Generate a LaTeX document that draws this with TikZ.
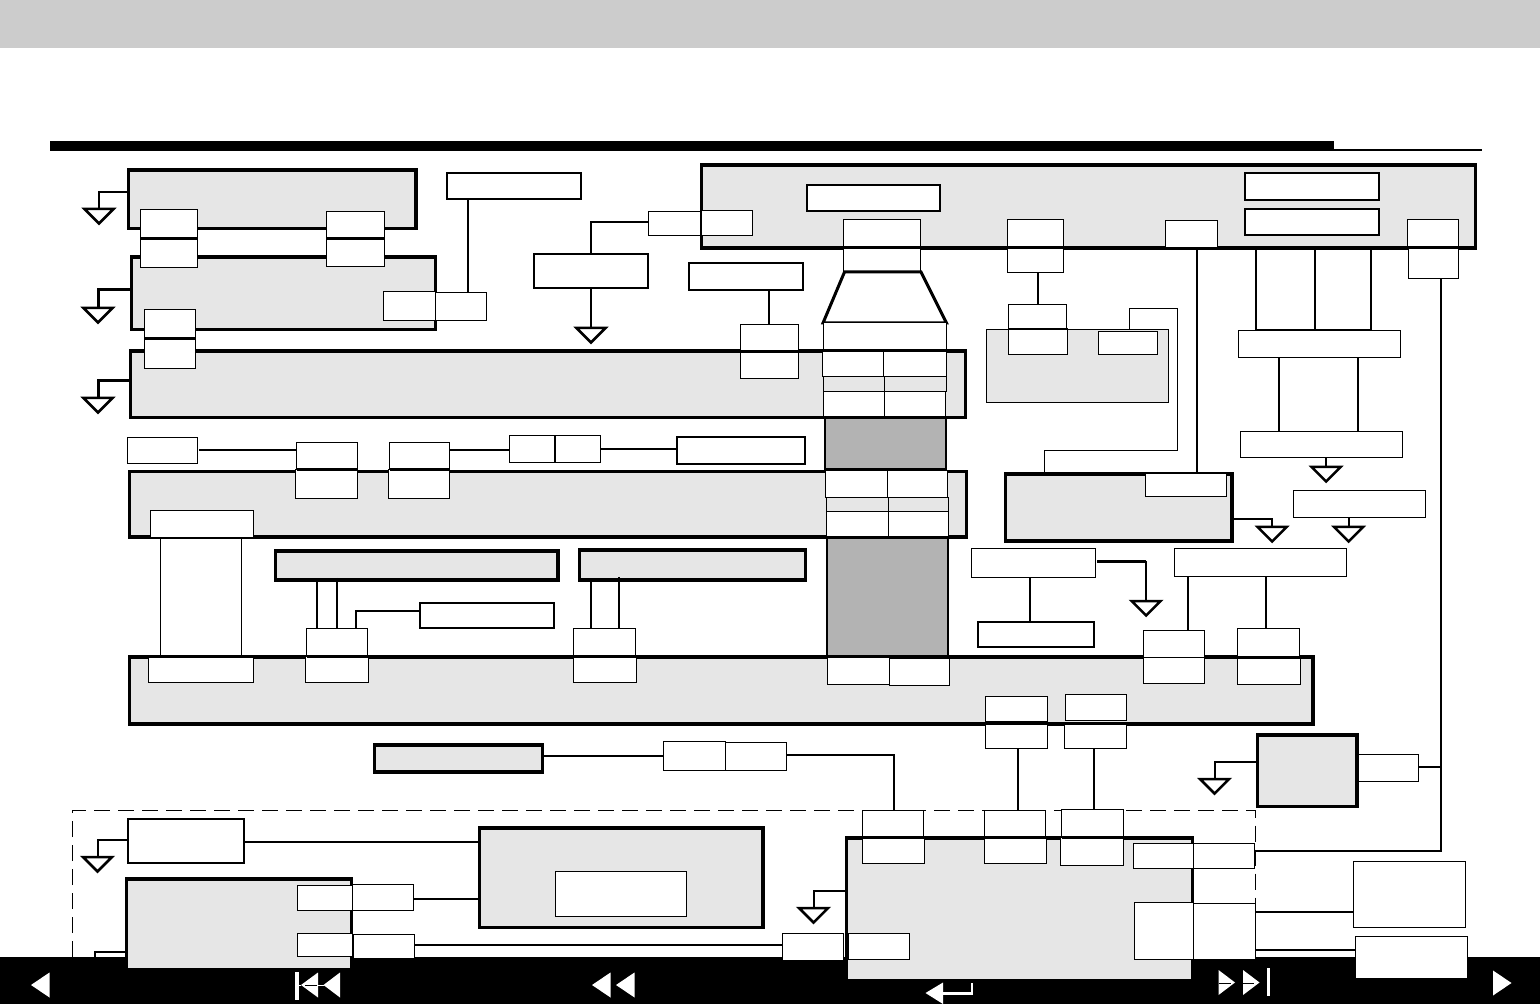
\documentclass[tikz,border=0pt]{standalone}
\usepackage{tikz}
\usetikzlibrary{shapes.geometric}
\definecolor{panelgray}{HTML}{E6E6E6}
\definecolor{busgray}{HTML}{B3B3B3}
\definecolor{headgray}{HTML}{CCCCCC}

\begin{document}
\begin{tikzpicture}[
    x=0.5pt, y=-0.5pt,
    port/.style n args={4}{draw=black, line width=0.5pt, fill=white, inner sep=0pt, outer sep=0pt, minimum width={(#3-#1)*0.5pt}, minimum height={(#4-#2)*0.5pt}, at={({(#1+#3)/2},{(#2+#4)/2})}},
    tag/.style n args={4}{port={#1}{#2}{#3}{#4}, line width=1pt},
    panel/.style n args={4}{port={#1}{#2}{#3}{#4}, fill=panelgray, line width=1.75pt},
    solid block/.style n args={4}{port={#1}{#2}{#3}{#4}, draw=none, fill=black},
    gnd/.style={isosceles triangle, isosceles triangle apex angle=90, shape border rotate=-90, draw=black, line width=1.25pt, fill=white, inner sep=0pt, outer sep=0pt, minimum height=7.25pt, anchor=lower side},
    wire/.style={line width=1pt},
    heavy/.style={line width=1.5pt},
    hair/.style={line width=0.5pt},
    icon/.style={fill=white, draw=none}
]
\useasboundingbox (0,0) rectangle (1540,1004);

% header and footer
\node[solid block={0}{0}{1540}{48}, fill=headgray] (header) {};
\node[solid block={50}{141}{1334}{151}] (rule) {};
\node[solid block={1334}{149}{1482}{151}] (ruletail) {};
\coordinate (dashsw) at (72.5,957);
\coordinate (dashse) at (1255,957);
\draw[hair, dash pattern=on 8pt off 4pt] (dashsw) |- (800,810.5) -| (dashse);
\node[solid block={0}{957}{1540}{1004}] (footer) {};

% grey panels
\node[panel={128.5}{170}{416}{228.5}] (boxA) {};
\node[panel={131.5}{257}{435.5}{329.5}] (boxB) {};
\node[panel={130.5}{351}{965.5}{417.5}] (boxC) {};
\node[panel={701.5}{165}{1475.5}{248}] (boxD) {};
\node[panel={129.5}{471.5}{966.5}{537}] (boxE) {};
\node[panel={275.5}{551}{558}{580}] (boxF) {};
\node[panel={579.5}{550}{805.5}{580}] (boxG) {};
\node[panel={129.5}{657}{1313}{724}] (boxH) {};
\node[panel={1005.5}{474}{1232}{541}] (boxI) {};
\node[panel={374.5}{745}{542.5}{772}] (boxJ) {};
\node[panel={1257.5}{735}{1357}{806.5}] (boxK) {};
\node[panel={479.5}{828}{763}{927.5}] (boxL) {};
\node[panel={126.5}{879}{351.5}{970}] (boxM) {};
\node[panel={846.5}{838}{1192.5}{981}] (boxN) {};
\node[port={986.5}{329.5}{1168.5}{402.5}, fill=panelgray] (boxO) {};
\node[port={825}{418}{946}{469.5}, fill=busgray, line width=1pt] (busA) {};
\node[port={826.5}{538}{948}{656}, fill=busgray, line width=1pt] (busB) {};

% wires
\draw[wire] (boxA.west |- 0,192) -| (99,209) coordinate (g1top);
\draw[heavy] (boxB.west |- 0,290) -| (98,308) coordinate (g2top);
\draw[heavy] (boxC.west |- 0,381) -| (98,398) coordinate (g3top);
\draw[wire] (468,199) coordinate (tapA) -- (468,292) coordinate (tapB);
\draw[wire] (649,222) coordinate (tapC) -| (591,254) coordinate (tapD);
\draw[wire] (591,288) coordinate (tapE) -- (591,328) coordinate (g4top);
\draw[wire] (769,290) coordinate (tapF) -- (769,325) coordinate (tapG);
\draw[wire] (1038,272) coordinate (tapH) -- (1038,304) coordinate (tapI);
\draw[hair] (1129.5,329) coordinate (tapJ) |- (1177.5,308.5) |- (1044.5,451) -- (1044.5,473) coordinate (tapK);
\draw[wire] (1197,248) coordinate (tapL) -- (1197,473) coordinate (tapM);
\draw[wire] (1255.5,248) coordinate (tapN) |- (1371,330) coordinate (tapO) -- (1371,248);
\draw[wire] (1315,248) -- (1315,330);
\draw[wire] (1279,357) -- (1279,431);
\draw[wire] (1358,357) -- (1358,431);
\draw[wire] (1326,458) -- (1326,467) coordinate (g5top);
\draw[wire] (boxI.east |- 0,519) -| (1272,527) coordinate (g6top);
\draw[wire] (1348.5,518) -- (1348.5,527) coordinate (g7top);
\draw[heavy] (1097,562) -- (1146,562);
\draw[wire] (1146,561) -- (1146,601) coordinate (g8top);
\draw[wire] (boxK.west |- 0,762) -| (1214.5,779) coordinate (g9top);
\draw[wire] (128,840) -| (97.5,857) coordinate (g10top);
\draw[wire] (boxN.west |- 0,891) -| (813.5,908) coordinate (g11top);
\draw[wire] (1441,277) |- (1255,851);
\draw[wire] (1415,767) -- (1442,767);
\draw[wire] (199,450) -- (296,450);
\draw[wire] (450,450) -- (509,450);
\draw[wire] (601,449) -- (677,449);
\draw[hair] (160.5,538) -- (160.5,656);
\draw[hair] (241.5,538) -- (241.5,656);
\draw[wire] (317,580) -- (317,628);
\draw[wire] (337,578) -- (337,628);
\draw[wire] (591,580) -- (591,628);
\draw[wire] (619,577) -- (619,628);
\draw[wire] (420,611) -| (356,628);
\draw[wire] (1030,577) -- (1030,621);
\draw[wire] (1188,576) -- (1188,631);
\draw[wire] (1266,576) -- (1266,628);
\draw[wire] (1018,748) -- (1018,810);
\draw[wire] (1094,748) -- (1094,809);
\draw[wire] (543,755.5) -- (663,755.5);
\draw[wire] (787,755) -| (894,810);
\draw[wire] (244,842) -- (480,842);
\draw[wire] (414,899) -- (480,899);
\draw[wire] (415,945) -- (782,945);
\draw[wire] (127,952) -| (94.5,960);
\draw[wire] (1255,912) -- (1354,912);
\draw[wire] (1255,950) -- (1356,950);

% grounds
\node[gnd] (g1) at (g1top) {};
\node[gnd] (g2) at (g2top) {};
\node[gnd] (g3) at (g3top) {};
\node[gnd] (g4) at (g4top) {};
\node[gnd] (g5) at (g5top) {};
\node[gnd] (g6) at (g6top) {};
\node[gnd] (g7) at (g7top) {};
\node[gnd] (g8) at (g8top) {};
\node[gnd] (g9) at (g9top) {};
\node[gnd] (g10) at (g10top) {};
\node[gnd] (g11) at (g11top) {};

% top left ports
\node[port={140.5}{209.5}{197.5}{239}] (pa1) {};
\node[port={140.5}{239}{197.5}{267.5}] (pa2) {};
\node[port={326.5}{211.5}{384.5}{239}] (pb1) {};
\node[port={326.5}{239}{384.5}{266.5}] (pb2) {};
\node[port={144.5}{309.5}{195.5}{339}] (pc1) {};
\node[port={144.5}{339}{195.5}{368.5}] (pc2) {};
\node[port={383.5}{291.5}{435}{320.5}] (pd1) {};
\node[port={435}{292.5}{486.5}{320.5}] (pd2) {};
\node[port={648.5}{211.5}{700.5}{235.5}] (pe1) {};
\node[port={701.5}{210.5}{752.5}{235.5}] (pe2) {};
\node[port={740.5}{324.5}{798.5}{378.5}] (pf1) {};
\draw[heavy] (pa1.south west) -- (pa1.south east);
\draw[heavy] (pb1.south west) -- (pb1.south east);
\draw[heavy] (pc1.south west) -- (pc1.south east);
\draw[heavy] (pf1.west) -- (pf1.east);

% white labels
\node[tag={447}{173}{581}{199}] (tagA) {};
\node[tag={534}{254.5}{648}{288}] (tagB) {};
\node[tag={689}{263.5}{803}{290}] (tagC) {};
\node[tag={807}{185}{940}{211}] (tagD) {};
\node[tag={1245}{173}{1379}{200}] (tagE) {};
\node[tag={1245}{209.5}{1379}{235}] (tagF) {};
\node[port={1238.5}{330.5}{1400.5}{357.5}] (tagG) {};
\node[port={1240.5}{431.5}{1402.5}{457.5}] (tagH) {};
\node[port={1293.5}{490.5}{1425.5}{517.5}] (tagI) {};
\node[port={127.5}{437.5}{197.5}{463.5}] (tagJ) {};
\node[tag={677}{437.5}{805}{464}] (tagK) {};
\node[tag={420}{602.5}{554}{628}] (tagL) {};
\node[port={971.5}{548.5}{1095.5}{577.5}] (tagM) {};
\node[tag={978}{621.5}{1094}{647}] (tagN) {};
\node[port={1174.5}{548.5}{1346.5}{576.5}] (tagO) {};
\node[tag={128}{819}{244}{863}] (tagP) {};
\node[port={555.5}{871.5}{686.5}{916.5}] (tagQ) {};
\node[port={1353.5}{861.5}{1465.5}{927.5}] (tagR) {};
\node[port={1355.5}{936.5}{1467.5}{978}] (tagS) {};

% top panel ports
\node[port={843.5}{219.5}{920.5}{248}] (pg1) {};
\node[port={843.5}{248}{920.5}{272}] (pg2) {};
\node[port={1007.5}{219.5}{1063.5}{248}] (ph1) {};
\node[port={1007.5}{248}{1063.5}{272.5}] (ph2) {};
\node[port={1165.5}{220.5}{1217.5}{248}] (pi1) {};
\node[port={1407.5}{219.5}{1458.5}{248}] (pj1) {};
\node[port={1408.5}{248}{1458.5}{278.5}] (pj2) {};
\node[port={1008.5}{304.5}{1066.5}{329}] (pk1) {};
\node[port={1008.5}{329}{1067}{354.5}] (pk2) {};
\node[port={1098.5}{331.5}{1157.5}{354.5}] (pl1) {};
\node[port={1145.5}{473.5}{1226.5}{496.5}] (pl2) {};
\draw[heavy] (pg1.south west) -- (pg1.south east);
\draw[heavy] (ph1.south west) -- (ph1.south east);
\draw[heavy] (pj1.south west) -- (pj1.south east);
\draw[wire] (pk1.south west) -- (pk1.south east);
\draw[heavy] (844.5,272) -- (921,272) -- (946.5,323) -- (823,323) -- cycle;

% column cells
\node[port={823}{323}{946.5}{351}, draw=none] (cellA0) {};
\draw[hair] (cellA0.north west) -- (cellA0.south west);
\draw[hair] (cellA0.north east) -- (cellA0.south east);
\node[port={822.5}{351}{883.5}{377}] (cellA1) {};
\node[port={883.5}{351}{946.5}{377}] (cellA2) {};
\node[port={823.5}{377}{884.5}{391.5}, fill=panelgray] (cellA3) {};
\node[port={884.5}{377}{946.5}{391.5}, fill=panelgray] (cellA4) {};
\node[port={823.5}{391.5}{884.5}{417.5}] (cellA5) {};
\node[port={884.5}{391.5}{945.5}{417.5}] (cellA6) {};
\draw[heavy] (cellA1.north west) -- (cellA2.north east);
\draw[heavy] (cellA5.south west) -- (cellA6.south east);
\node[port={825.5}{471}{887.5}{498}] (cellB1) {};
\node[port={887.5}{471}{947.5}{498}] (cellB2) {};
\node[port={826.5}{498}{888}{512}, fill=panelgray] (cellB3) {};
\node[port={888}{498}{948.5}{512}, fill=panelgray] (cellB4) {};
\node[port={826.5}{512}{888}{538}] (cellB5) {};
\node[port={888}{512}{948.5}{538}] (cellB6) {};
\draw[heavy] (cellB5.south west) -- (cellB6.south east);

% middle ports
\node[port={296.5}{442.5}{357.5}{470}] (pm1) {};
\node[port={295.5}{470}{357.5}{498.5}] (pm2) {};
\node[port={389.5}{442.5}{449.5}{470}] (pn1) {};
\node[port={388.5}{470}{449.5}{498.5}] (pn2) {};
\node[port={509.5}{435.5}{555}{463}] (po1) {};
\node[port={555}{435.5}{600.5}{463}] (po2) {};
\draw[wire] (po1.north east) -- (po1.south east);
\draw[heavy] (pm1.south west) -- (pm1.south east);
\draw[heavy] (pn1.south west) -- (pn1.south east);
\node[port={150.5}{510.5}{253.5}{537.5}] (pp1) {};
\node[port={148.5}{657.5}{253.5}{682.5}] (pp2) {};
\node[port={306.5}{628.5}{367.5}{656}] (pq1) {};
\node[port={305.5}{656}{368.5}{682.5}] (pq2) {};
\node[port={573.5}{628.5}{635.5}{656}] (pr1) {};
\node[port={573.5}{656}{636.5}{682.5}] (pr2) {};
\draw[heavy] (pq1.south west) -- (pq1.south east);
\draw[heavy] (pr1.south west) -- (pr1.south east);
\node[port={827.5}{657}{889}{684.5}] (ps1) {};
\node[port={889.5}{658}{949.5}{685.5}] (ps2) {};
\node[port={1143.5}{630.5}{1204}{657}] (pt1) {};
\node[port={1143.5}{657}{1204.5}{683.5}] (pt2) {};
\node[port={1237.5}{628.5}{1299.5}{657}] (pu1) {};
\node[port={1237.5}{657}{1300.5}{684.5}] (pu2) {};
\draw[heavy] (pu1.south west) -- (pu1.south east);
\node[port={985.5}{696.5}{1047}{721.5}] (pv1) {};
\node[port={1065.5}{694.5}{1126.5}{720.5}] (pv2) {};
\node[port={985.5}{724.5}{1047.5}{748.5}] (pv3) {};
\node[port={1064.5}{724.5}{1126.5}{748.5}] (pv4) {};

% lower ports
\node[port={663.5}{741.5}{725}{770.5}] (pw1) {};
\node[port={725}{742.5}{786.5}{770.5}] (pw2) {};
\node[port={1358}{754.5}{1418.5}{781.5}] (px1) {};
\node[port={862.5}{810.5}{923.5}{837.5}] (py1) {};
\node[port={862.5}{837.5}{924.5}{863.5}] (py2) {};
\node[port={984.5}{810.5}{1045.5}{837.5}] (py3) {};
\node[port={984.5}{837.5}{1046.5}{863.5}] (py4) {};
\node[port={1061.5}{809.5}{1123.5}{837.5}] (py5) {};
\node[port={1060.5}{837.5}{1123.5}{865.5}] (py6) {};
\draw[heavy] (py1.south west) -- (py1.south east);
\draw[heavy] (py3.south west) -- (py3.south east);
\draw[heavy] (py5.south west) -- (py5.south east);
\node[port={1133.5}{843.5}{1193}{868.5}] (pz1) {};
\node[port={1193}{843.5}{1254}{868.5}] (pz2) {};
\node[port={1134.5}{902.5}{1193}{959.5}] (pz3) {};
\node[port={1193}{903.5}{1255.5}{959.5}] (pz4) {};
\node[port={782.5}{933.5}{843.5}{960}] (qa1) {};
\node[port={848.5}{933.5}{909.5}{959.5}] (qa2) {};
\node[port={297.5}{885.5}{352.5}{910.5}] (qb1) {};
\node[port={352.5}{884.5}{413.5}{910.5}] (qb2) {};
\node[port={297.5}{933.5}{352}{956.5}] (qc1) {};
\node[port={353.5}{934.5}{414.5}{958}] (qc2) {};

% footer icons
\fill[icon] (31,985) -- (49.5,972.5) -- (49.5,997.5) -- cycle;
\fill[icon] (295,972) rectangle (298.5,1000);
\fill[icon] (301,985) -- (318,972.5) -- (318,997.5) -- cycle;
\fill[icon] (323.5,985) -- (340,972.5) -- (340,997.5) -- cycle;
\fill[icon] (592,985) -- (610.5,972.5) -- (610.5,997.5) -- cycle;
\fill[icon] (616,985) -- (634.5,972.5) -- (634.5,997.5) -- cycle;
\fill[icon] (925.5,993) -- (943,982.5) -- (943,1004) -- cycle;
\fill[icon] (943,992) rectangle (973,995);
\fill[icon] (970.5,982.5) rectangle (973,995);
\fill[icon] (1218.5,970) -- (1235,982.5) -- (1218.5,995) -- cycle;
\fill[icon] (1243,970) -- (1259.5,982.5) -- (1243,995) -- cycle;
\fill[icon] (1266.5,968) rectangle (1270,996);
\fill[icon] (1493,970.5) -- (1511.5,983) -- (1493,995.5) -- cycle;
\draw[hair, white] (295,985) -- (301,985);
\draw[hair, white] (318,985) -- (324,985);
\draw[hair] (305,985) -- (317,985);
\draw[hair] (1218.5,983) -- (1231,983);
\draw[hair] (1243,983) -- (1254,983);
\end{tikzpicture}
\end{document}
